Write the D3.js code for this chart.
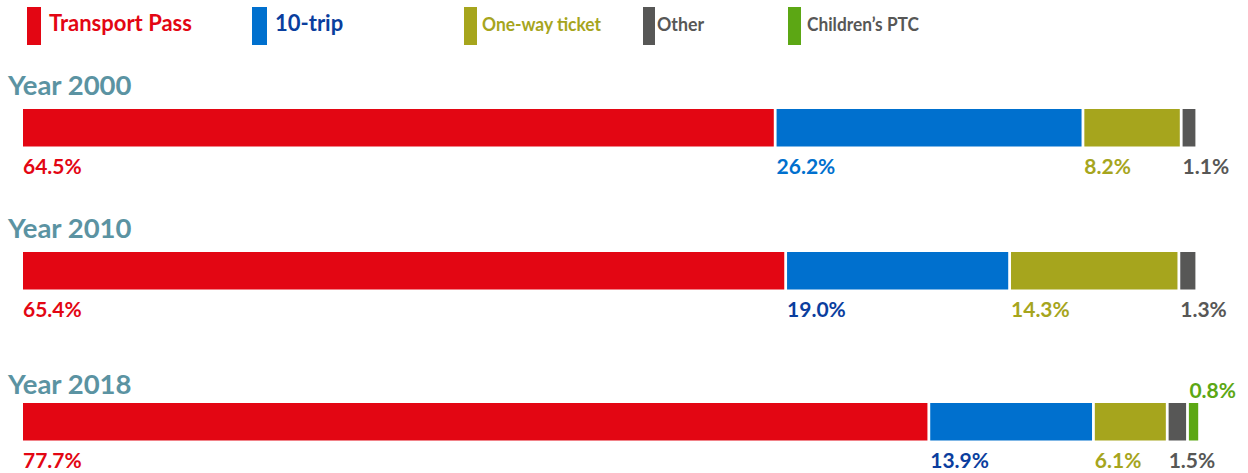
<!DOCTYPE html>
<html>
<head>
<meta charset="utf-8">
<script src="https://cdn.jsdelivr.net/npm/d3@7"></script>
<style>
  html, body { margin: 0; padding: 0; background: #ffffff; }
  svg { display: block; font-family: Lato, "Open Sans", sans-serif; }
</style>
</head>
<body>
<svg id="chart" width="1248" height="473"></svg>
<script>
// Ticket types, in stacking order
const ticketTypes = ["Transport Pass", "10-trip", "One-way ticket", "Other", "Children’s PTC"];
const years = ["Year 2000", "Year 2010", "Year 2018"];

// Share of trips per ticket type (%), null where the type did not exist
const share2000 = [64.5, 26.2, 8.2, 1.1, null];
const share2010 = [65.4, 19.0, 14.3, 1.3, null];
const share2018 = [77.7, 13.9, 6.1, 1.5, 0.8];
const shares = [share2000, share2010, share2018];

// Styling
const fillColors = ["#e30613", "#0070ce", "#a6a51d", "#575756", "#5ca714"];
const legendTextColors = ["#e30613", "#0a3e9e", "#a6a51d", "#575756", "#575756"];
const valueLabelColors = [
  ["#e30613", "#0070ce", "#a6a51d", "#575756", "#5ca714"],
  ["#e30613", "#0a3e9e", "#a6a51d", "#575756", "#5ca714"],
  ["#e30613", "#0a3e9e", "#a6a51d", "#575756", "#5ca714"]
];
const yearColor = "#5b93a2";

const svg = d3.select("#chart");

// Horizontal scale: 0–100 % across the bar track, plus a small gap between segments
const x = d3.scaleLinear().domain([0, 100]).range([23, 23 + 1164]);
const gap = 2.8;
const barH = 37.5;

// Row positions (bar tops)
const rowY = d3.scaleOrdinal().domain(years).range([109, 252, 403]);
const titleOffset = d3.scaleOrdinal().domain(years).range([-14, -14, -9]);

// Legend layout
const legendX = [27, 252, 464, 643, 788];
const legendSwatchW = [14, 15, 13, 12, 13];
const legendTextDx = [22, 23, 18, 14, 19];
const legendFontSize = [22, 22, 19, 19, 19];
const legendTextW = [null, null, 119, 47, 112]; // condensed entries

const legend = svg.append("g").attr("class", "legend");
ticketTypes.forEach((t, i) => {
  const g = legend.append("g").attr("transform", `translate(${legendX[i]},0)`);
  g.append("rect").attr("x", 0).attr("y", 7).attr("width", legendSwatchW[i]).attr("height", 38)
    .attr("fill", fillColors[i]);
  const txt = g.append("text").attr("x", legendTextDx[i]).attr("y", 31)
    .attr("font-size", legendFontSize[i]).attr("font-weight", 700)
    .attr("fill", legendTextColors[i]).text(t);
  if (legendTextW[i]) {
    txt.attr("textLength", legendTextW[i]).attr("lengthAdjust", "spacingAndGlyphs");
  }
});

// Rows
years.forEach((yr, r) => {
  const y0 = rowY(yr);
  const g = svg.append("g").attr("class", "row");

  g.append("text").attr("x", 8).attr("y", y0 + titleOffset(yr))
    .attr("font-size", 27.5).attr("font-weight", 700)
    .attr("fill", yearColor).text(yr);

  let cum = 0;
  const segs = [];
  shares[r].forEach((v, i) => {
    if (v == null) return;
    const k = segs.length;
    const x0 = x(cum) + k * gap;
    const w = x(cum + v) - x(cum);
    segs.push({ i, v, x0, w });
    cum += v;
  });

  g.selectAll("rect.seg").data(segs).join("rect")
    .attr("class", "seg")
    .attr("x", d => d.x0).attr("y", y0)
    .attr("width", d => d.w).attr("height", barH)
    .attr("fill", d => fillColors[d.i]);

  g.selectAll("text.val").data(segs).join("text")
    .attr("class", "val")
    .attr("x", d => d.x0 + (d.v < 1 ? 0.5 : 0))
    .attr("y", d => d.v < 1 ? y0 - 5 : y0 + barH + 27)
    .attr("font-size", 21).attr("font-weight", 700)
    .attr("fill", d => valueLabelColors[r][d.i])
    .text(d => d.v.toFixed(1) + "%");
});
</script>
</body>
</html>
